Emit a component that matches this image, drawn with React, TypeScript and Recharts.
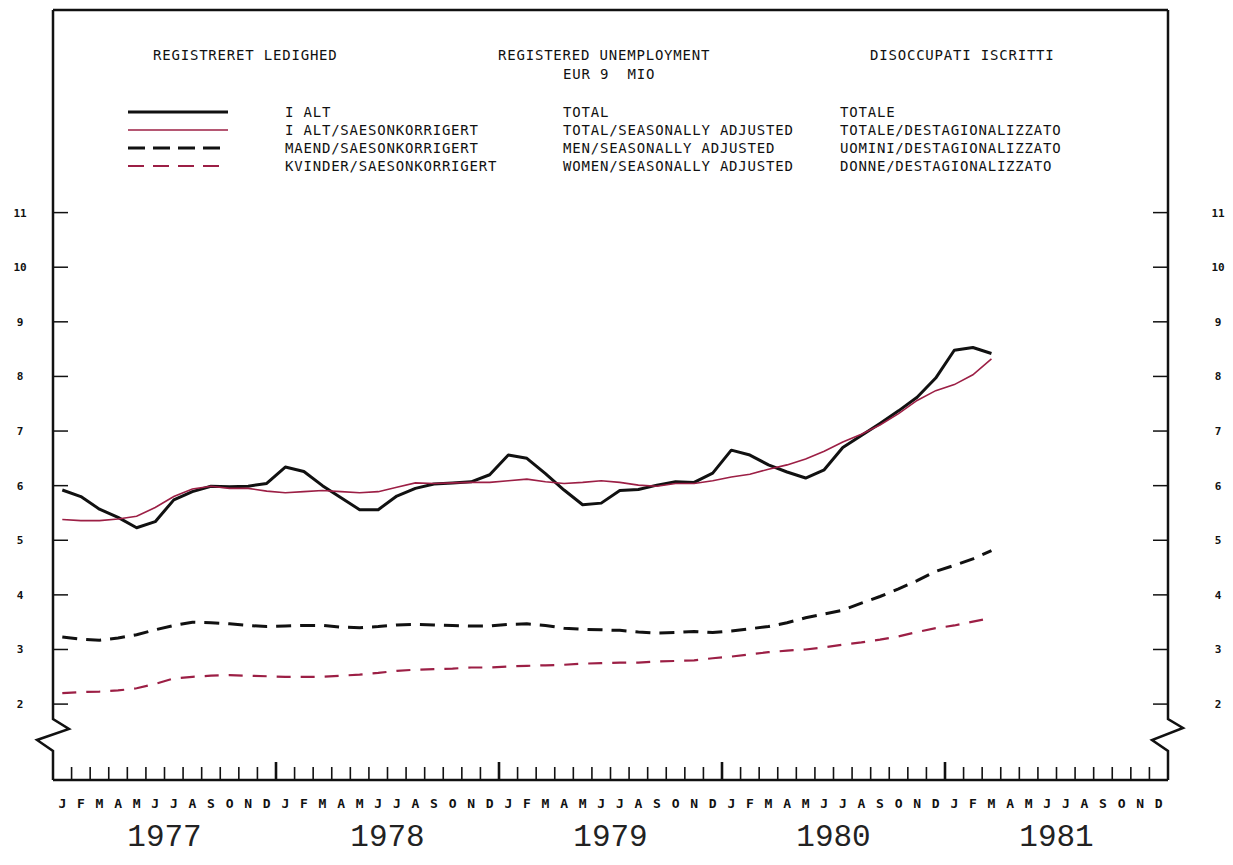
import { LineChart, Line, XAxis, YAxis, Customized } from "recharts";

const months = ["J", "F", "M", "A", "M", "J", "J", "A", "S", "O", "N", "D"];
const years = ["1977", "1978", "1979", "1980", "1981"];
const monthLabels = years.flatMap(() => months);
const monthTicks = monthLabels.map((_, i) => i);
const valueTicks = [2, 3, 4, 5, 6, 7, 8, 9, 10, 11];

// million, Jan 1977 .. Mar 1981
const total = [
  5.92, 5.8, 5.57, 5.42, 5.23, 5.34, 5.74, 5.89, 5.99, 5.98, 5.99, 6.04,
  6.34, 6.26, 6.0, 5.78, 5.56, 5.56, 5.81, 5.95, 6.03, 6.05, 6.07, 6.2,
  6.56, 6.5, 6.22, 5.92, 5.65, 5.68, 5.91, 5.93, 6.01, 6.07, 6.06, 6.23,
  6.65, 6.56, 6.38, 6.25, 6.14, 6.29, 6.7, 6.92, 7.14, 7.37, 7.62, 7.97,
  8.48, 8.53, 8.42,
];
const totalSA = [
  5.38, 5.36, 5.36, 5.39, 5.44, 5.6, 5.8, 5.94, 5.99, 5.95, 5.95, 5.9,
  5.87, 5.89, 5.91, 5.89, 5.87, 5.89, 5.97, 6.05, 6.04, 6.05, 6.06, 6.06,
  6.09, 6.12, 6.07, 6.04, 6.06, 6.09, 6.06, 6.01, 5.99, 6.04, 6.04, 6.09,
  6.16, 6.21, 6.3, 6.38, 6.49, 6.63, 6.8, 6.94, 7.11, 7.32, 7.56, 7.74,
  7.85, 8.03, 8.32,
];
const men = [
  3.23, 3.19, 3.17, 3.21, 3.27, 3.36, 3.44, 3.5, 3.49, 3.47, 3.44, 3.42,
  3.43, 3.44, 3.44, 3.41, 3.4, 3.42, 3.45, 3.46, 3.45, 3.44, 3.43, 3.43,
  3.46, 3.47, 3.44, 3.39, 3.37, 3.36, 3.35, 3.32, 3.3, 3.31, 3.33, 3.31,
  3.34, 3.38, 3.42, 3.49, 3.58, 3.65, 3.72, 3.85, 3.97, 4.11, 4.26, 4.43,
  4.54, 4.66, 4.81,
];
const women = [
  2.2, 2.22, 2.23, 2.25, 2.29, 2.37, 2.47, 2.5, 2.52, 2.53, 2.52, 2.51,
  2.5, 2.5, 2.5, 2.52, 2.54, 2.57, 2.61, 2.63, 2.64, 2.65, 2.67, 2.67,
  2.69, 2.7, 2.71, 2.72, 2.74, 2.75, 2.76, 2.76, 2.78, 2.79, 2.8, 2.84,
  2.87, 2.91, 2.95, 2.98, 3.0, 3.04, 3.09, 3.13, 3.18, 3.24, 3.32, 3.39,
  3.44, 3.51, 3.58,
];

const data = total.map((v, i) => ({
  i,
  total: v,
  totalSA: totalSA[i],
  men: men[i],
  women: women[i],
}));

const W = 1233;
const H = 865;
const LEFT = 53;
const RIGHT = 1168;
const TOP = 10;
const BOTTOM = 780;
const BAND = (RIGHT - LEFT) / 60;
const RED = "#9c1f45";
const INK = "#111";
const MONO = "'DejaVu Sans Mono', 'Liberation Mono', monospace";

const MonthTick = (props: any) => {
  const { x, payload } = props;
  const i = payload.value;
  const edge = x + BAND / 2;
  const yearEnd = i % 12 === 11;
  return (
    <g>
      <text x={x} y={808} textAnchor="middle" fontFamily={MONO} fontSize={13} fontWeight={700} fill={INK}>
        {monthLabels[i]}
      </text>
      {i < 59 && (
        <line x1={edge} x2={edge} y1={BOTTOM} y2={yearEnd ? 762 : 767} stroke={INK} strokeWidth={yearEnd ? 2.6 : 1.6} />
      )}
      {i % 12 === 5 && (
        <text x={edge} y={846} textAnchor="middle" fontFamily="'Liberation Mono', monospace" fontSize={31} fill="#222">
          {years[Math.floor(i / 12)]}
        </text>
      )}
    </g>
  );
};

const LeftTick = (props: any) => {
  const { y, payload } = props;
  return (
    <g>
      <line x1={LEFT} x2={LEFT + 15} y1={y} y2={y} stroke={INK} strokeWidth={1.5} />
      <text x={20} y={y + 4} textAnchor="middle" fontFamily={MONO} fontSize={11} fontWeight={700} fill={INK}>
        {payload.value}
      </text>
    </g>
  );
};

const RightTick = (props: any) => {
  const { y, payload } = props;
  return (
    <g>
      <line x1={RIGHT - 15} x2={RIGHT} y1={y} y2={y} stroke={INK} strokeWidth={1.5} />
      <text x={1218} y={y + 4} textAnchor="middle" fontFamily={MONO} fontSize={11} fontWeight={700} fill={INK}>
        {payload.value}
      </text>
    </g>
  );
};

const legendRows = [
  { da: "", color: INK, width: 3, texts: ["I ALT", "TOTAL", "TOTALE"] },
  { da: "", color: RED, width: 1.6, texts: ["I ALT/SAESONKORRIGERT", "TOTAL/SEASONALLY ADJUSTED", "TOTALE/DESTAGIONALIZZATO"] },
  { da: "17 8", color: INK, width: 3, texts: ["MAEND/SAESONKORRIGERT", "MEN/SEASONALLY ADJUSTED", "UOMINI/DESTAGIONALIZZATO"] },
  { da: "16 9", color: RED, width: 2.2, texts: ["KVINDER/SAESONKORRIGERT", "WOMEN/SEASONALLY ADJUSTED", "DONNE/DESTAGIONALIZZATO"] },
];

const txt = {
  fontFamily: MONO,
  fontSize: 14,
  fill: INK,
  style: { letterSpacing: "0.8px", whiteSpace: "pre" as const },
};

const Frame = () => (
  <g>
    <line x1={LEFT} x2={RIGHT} y1={TOP} y2={TOP} stroke={INK} strokeWidth={2.5} />
    <path
      d={`M${LEFT} ${TOP} L${LEFT} 719 L${LEFT + 16} 729 L${LEFT - 16} 740 L${LEFT} 751 L${LEFT} ${BOTTOM}`}
      fill="none" stroke={INK} strokeWidth={2.5}
    />
    <path
      d={`M${RIGHT} ${TOP} L${RIGHT} 719 L${RIGHT + 15} 728 L${RIGHT - 16} 740 L${RIGHT} 751 L${RIGHT} ${BOTTOM}`}
      fill="none" stroke={INK} strokeWidth={2.5}
    />
    <text x={153} y={60} {...txt}>REGISTRERET LEDIGHED</text>
    <text x={498} y={60} {...txt}>REGISTERED UNEMPLOYMENT</text>
    <text x={563} y={79} {...txt}>EUR 9  MIO</text>
    <text x={870} y={60} {...txt}>DISOCCUPATI ISCRITTI</text>
    {legendRows.map((r, k) => {
      const y = 112 + k * 18;
      return (
        <g key={k}>
          <line x1={128} x2={228} y1={y} y2={y} stroke={r.color} strokeWidth={r.width} strokeDasharray={r.da || undefined} />
          <text x={285} y={y + 5} {...txt}>{r.texts[0]}</text>
          <text x={563} y={y + 5} {...txt}>{r.texts[1]}</text>
          <text x={840} y={y + 5} {...txt}>{r.texts[2]}</text>
        </g>
      );
    })}
  </g>
);

export default function App() {
  return (
    <div style={{ position: "absolute", left: 0, top: 0, background: "#fff" }}>
      <LineChart
        width={W}
        height={H}
        data={data}
        margin={{ top: TOP, right: W - RIGHT - 1, bottom: 0, left: LEFT - 1 }}
      >
        <XAxis
          dataKey="i"
          type="number"
          domain={[-0.5, 59.5]}
          ticks={monthTicks}
          interval={0}
          height={H - BOTTOM}
          tickLine={false}
          axisLine={{ stroke: INK, strokeWidth: 2.5 }}
          tick={<MonthTick />}
          allowDataOverflow
        />
        <YAxis
          yAxisId="left"
          width={1}
          type="number"
          domain={[0.61, 14.71]}
          ticks={valueTicks}
          interval={0}
          axisLine={false}
          tickLine={false}
          tick={<LeftTick />}
          allowDataOverflow
        />
        <YAxis
          yAxisId="right"
          orientation="right"
          width={1}
          type="number"
          domain={[0.61, 14.71]}
          ticks={valueTicks}
          interval={0}
          axisLine={false}
          tickLine={false}
          tick={<RightTick />}
          allowDataOverflow
        />
        <Line yAxisId="left" dataKey="total" type="linear" stroke={INK} strokeWidth={3} dot={false} strokeLinejoin="round" isAnimationActive={false} />
        <Line yAxisId="left" dataKey="totalSA" type="linear" stroke={RED} strokeWidth={1.6} dot={false} isAnimationActive={false} />
        <Line yAxisId="left" dataKey="men" type="linear" stroke={INK} strokeWidth={3} strokeDasharray="15 9" dot={false} isAnimationActive={false} />
        <Line yAxisId="left" dataKey="women" type="linear" stroke={RED} strokeWidth={2.2} strokeDasharray="14 10" dot={false} isAnimationActive={false} />
        <Customized component={Frame} />
      </LineChart>
    </div>
  );
}
